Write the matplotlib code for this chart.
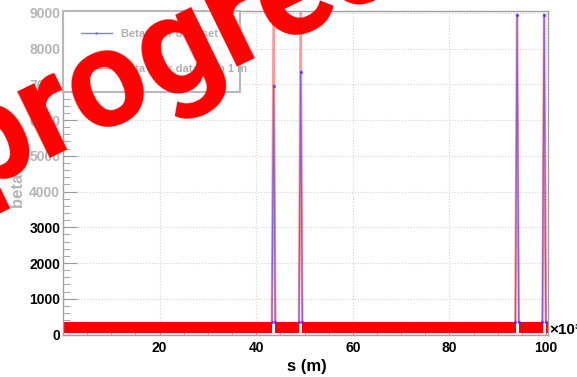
import numpy as np
import matplotlib
matplotlib.use("Agg")
import matplotlib.pyplot as plt
from matplotlib.ticker import MultipleLocator

# spike positions along the ring (s in units of 10^3 m) and peak beta values (m)
spike_s = [43.6, 49.2, 94.0, 99.6]
beta_x_peak = [6950, 7350, 8950, 8950]
beta_y_peak = [9000, 9000, 8950, 8950]
spike_half_width = 0.35

# envelope of the dense regular-lattice oscillation between the spikes
band_low = 30
band_high = 340
s_start, s_end = 0.0, 100.4

y_ticks = [0, 1000, 2000, 3000, 4000, 5000, 6000, 7000, 8000, 9000]
x_ticks = [20, 40, 60, 80, 100]
legend_labels = ["Beta x for data set 1.1", "Beta y for data step 1 m"]

plt.rcParams["font.family"] = ["Liberation Sans", "DejaVu Sans"]

fig = plt.figure(figsize=(5.77, 3.77), dpi=100)
ax = fig.add_axes([63 / 577, 1 - 334.5 / 377, 485 / 577, 323.5 / 377])

# baseline band, interrupted at every spike
edges = [s_start]
for c in spike_s:
    edges += [c - 0.3, c + 0.3]
edges.append(s_end)
for a, b in zip(edges[0::2], edges[1::2]):
    ax.fill_between([a, b], band_low, band_high, color="#ff0000", lw=0, zorder=2)

# spikes
for i, c in enumerate(spike_s):
    xs = [c - spike_half_width, c, c + spike_half_width]
    ax.plot(xs, [band_high, beta_y_peak[i], band_high], color="#ff2020",
            alpha=0.45, lw=1.8, zorder=3)
    ax.plot(xs, [band_high, beta_x_peak[i], band_high], color="#3030ff",
            alpha=0.55, lw=0.9, marker=".", ms=3, zorder=4)

# legend handles
hx, = ax.plot([], [], color="#8080ff", lw=1, marker=".", ms=2)
hy, = ax.plot([], [], color="#ff9090", lw=1)
leg = ax.legend([hx, hy], legend_labels, loc="upper left",
                bbox_to_anchor=(0, 0.75, 0.365, 0.25), mode="expand",
                borderaxespad=0, fancybox=False, framealpha=1,
                edgecolor="#b8b8b8", labelspacing=2.3,
                handlelength=2.8, borderpad=1.6,
                prop={"weight": "bold", "size": 8})
leg.get_frame().set_linewidth(1.5)
for t in leg.get_texts():
    t.set_color("#b0b0b0")
leg.set_zorder(6)

ax.set_xlim(s_start, s_end)
ax.set_ylim(0, 9050)
ax.set_xticks(x_ticks)
ax.set_xticklabels([str(v) for v in x_ticks], fontsize=10, fontweight="bold")
ax.set_yticks(y_ticks)
ax.set_yticklabels([str(v) for v in y_ticks], fontsize=10, fontweight="bold")
for v, lab in zip(y_ticks, ax.get_yticklabels()):
    lab.set_color("black" if v < 4000 else "#b4b4b4")
ax.xaxis.set_minor_locator(MultipleLocator(5))
ax.yaxis.set_minor_locator(MultipleLocator(200))
ax.tick_params(axis="y", which="major", direction="in", length=10, color="#999999", pad=2)
ax.tick_params(axis="y", which="minor", direction="in", length=5, color="#999999")
ax.tick_params(axis="x", which="major", direction="in", length=7, color="#999999", pad=5)
ax.tick_params(axis="x", which="minor", direction="in", length=3.5, color="#999999")
ax.grid(True, which="major", color="#d4d4d4", lw=0.8, ls=":")
for sp in ax.spines.values():
    sp.set_color("#a0a0a0")
    sp.set_linewidth(1)

fig.text(307 / 577, 1 - 366 / 377, "s (m)", fontsize=12, fontweight="bold",
         ha="center", va="center")
fig.text(18 / 577, 1 - 176 / 377, "beta (m)", fontsize=12, fontweight="bold",
         color="#b4b4b4", rotation=90, ha="center", va="center")
fig.text(549 / 577, 1 - 330 / 377, "×10³", fontsize=11, fontweight="bold",
         ha="left", va="center")

# watermark
fig.text(-27 / 577, 1 - 192 / 377, "progress", fontsize=100, fontweight="bold",
         family=["Roboto", "Liberation Sans"],
         color="#ff0000", rotation=26, rotation_mode="anchor",
         ha="left", va="baseline", zorder=10)

fig.savefig("out.png", dpi=100)
